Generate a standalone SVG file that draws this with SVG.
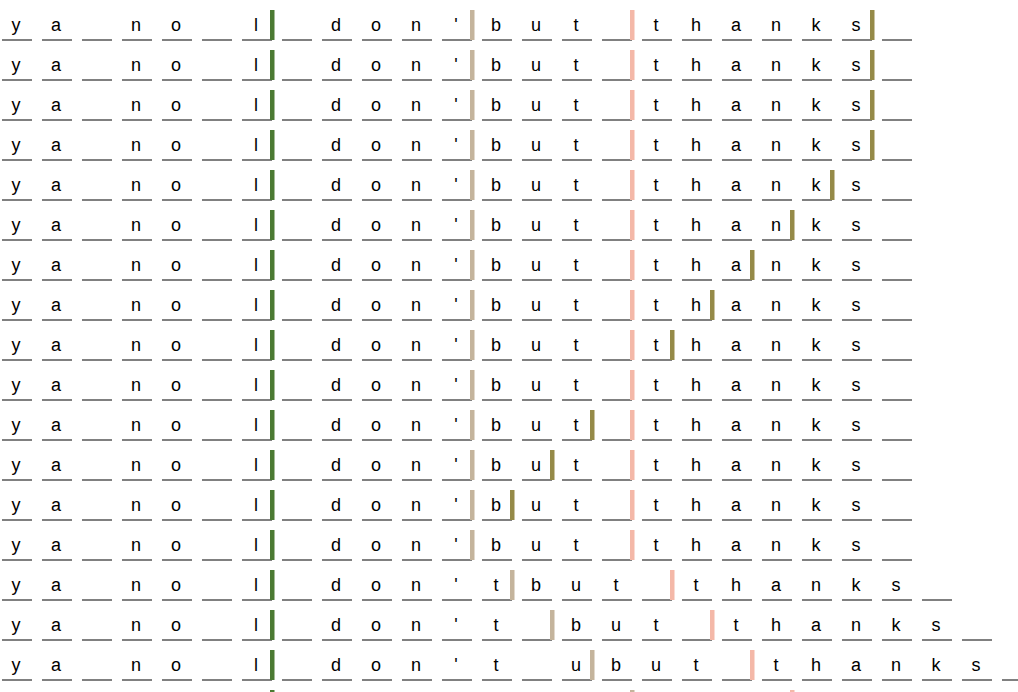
<svg xmlns="http://www.w3.org/2000/svg" width="1018" height="692" viewBox="0 0 1018 692">
<style>
  text { font-family: "Liberation Sans", Arial, sans-serif; font-size: 18px; fill: #000; text-anchor: middle; }
  .ul { stroke: #808080; stroke-width: 2; stroke-dasharray: 30 10; fill: none; }
  .g { fill: #4b7a33; }
  .b { fill: #c4b49c; }
  .p { fill: #f4b8a8; }
  .o { fill: #958a48; }
</style>
<rect width="1018" height="692" fill="#ffffff"/>
<defs>
  <g id="row-a">
    <line class="ul" x1="2" y1="40" x2="912" y2="40"/>
    <text x="16 56 136 176 256 336 376 416 456 496 536 576 656 696 736 776 816 856" y="31">yanoldon'butthanks</text>
    <rect class="g" x="270" y="10" width="4.5" height="30"/>
    <rect class="b" x="470" y="10" width="4.5" height="30"/>
    <rect class="p" x="630" y="10" width="4.5" height="30"/>
  </g>
</defs>
<g id="row1"><use href="#row-a"/><rect class="o" x="870" y="10" width="4.5" height="30"/></g>
<g id="row2" transform="translate(0,40)"><use href="#row-a"/><rect class="o" x="870" y="10" width="4.5" height="30"/></g>
<g id="row3" transform="translate(0,80)"><use href="#row-a"/><rect class="o" x="870" y="10" width="4.5" height="30"/></g>
<g id="row4" transform="translate(0,120)"><use href="#row-a"/><rect class="o" x="870" y="10" width="4.5" height="30"/></g>
<g id="row5" transform="translate(0,160)"><use href="#row-a"/><rect class="o" x="830" y="10" width="4.5" height="30"/></g>
<g id="row6" transform="translate(0,200)"><use href="#row-a"/><rect class="o" x="790" y="10" width="4.5" height="30"/></g>
<g id="row7" transform="translate(0,240)"><use href="#row-a"/><rect class="o" x="750" y="10" width="4.5" height="30"/></g>
<g id="row8" transform="translate(0,280)"><use href="#row-a"/><rect class="o" x="710" y="10" width="4.5" height="30"/></g>
<g id="row9" transform="translate(0,320)"><use href="#row-a"/><rect class="o" x="670" y="10" width="4.5" height="30"/></g>
<g id="row10" transform="translate(0,360)"><use href="#row-a"/></g>
<g id="row11" transform="translate(0,400)"><use href="#row-a"/><rect class="o" x="590" y="10" width="4.5" height="30"/></g>
<g id="row12" transform="translate(0,440)"><use href="#row-a"/><rect class="o" x="550" y="10" width="4.5" height="30"/></g>
<g id="row13" transform="translate(0,480)"><use href="#row-a"/><rect class="o" x="510" y="10" width="4.5" height="30"/></g>
<g id="row14" transform="translate(0,520)"><use href="#row-a"/></g>
<g id="row15" transform="translate(0,560)">
  <line class="ul" x1="2" y1="40" x2="952" y2="40"/>
  <text x="16 56 136 176 256 336 376 416 456 496 536 576 616 696 736 776 816 856 896" y="31">yanoldon'tbutthanks</text>
  <rect class="g" x="270" y="10" width="4.5" height="30"/>
  <rect class="b" x="510" y="10" width="4.5" height="30"/>
  <rect class="p" x="670" y="10" width="4.5" height="30"/>
</g>
<g id="row16" transform="translate(0,600)">
  <line class="ul" x1="2" y1="40" x2="992" y2="40"/>
  <text x="16 56 136 176 256 336 376 416 456 496 576 616 656 736 776 816 856 896 936" y="31">yanoldon'tbutthanks</text>
  <rect class="g" x="270" y="10" width="4.5" height="30"/>
  <rect class="b" x="550" y="10" width="4.5" height="30"/>
  <rect class="p" x="710" y="10" width="4.5" height="30"/>
</g>
<g id="row17" transform="translate(0,640)">
  <line class="ul" x1="2" y1="40" x2="1032" y2="40"/>
  <text x="16 56 136 176 256 336 376 416 456 496 576 616 656 696 776 816 856 896 936 976" y="31">yanoldon'tubutthanks</text>
  <rect class="g" x="270" y="10" width="4.5" height="30"/>
  <rect class="b" x="590" y="10" width="4.5" height="30"/>
  <rect class="p" x="750" y="10" width="4.5" height="30"/>
</g>
<g id="row18" transform="translate(0,680)">
  <rect class="g" x="270" y="10" width="4.5" height="30"/>
  <rect class="b" x="630" y="10" width="4.5" height="30"/>
  <rect class="p" x="790" y="10" width="4.5" height="30"/>
</g>
</svg>
